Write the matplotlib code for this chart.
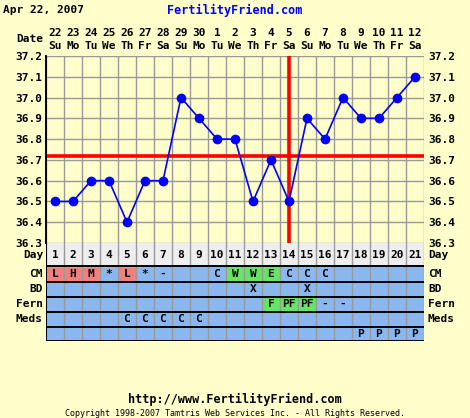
import matplotlib
matplotlib.use("Agg")
import matplotlib.pyplot as plt
import matplotlib.transforms as mtrans
from matplotlib.patches import Rectangle

# chart data
chart_date = "Apr 22, 2007"
days = list(range(1, 22))
dates = [22, 23, 24, 25, 26, 27, 28, 29, 30, 1, 2, 3, 4, 5, 6, 7, 8, 9, 10, 11, 12]
weekdays = ["Su", "Mo", "Tu", "We", "Th", "Fr", "Sa"] * 3
temps = [36.5, 36.5, 36.6, 36.6, 36.4, 36.6, 36.6, 37.0, 36.9, 36.8, 36.8,
         36.5, 36.7, 36.5, 36.9, 36.8, 37.0, 36.9, 36.9, 37.0, 37.1]
coverline = 36.72
ovulation_day = 14
temp_ticks = [36.3, 36.4, 36.5, 36.6, 36.7, 36.8, 36.9, 37.0, 37.1, 37.2]

row_names = ["CM", "BD", "Fern", "Meds", ""]
cm = ["L", "H", "M", "*", "L", "*", "-", "", "", "C", "W", "W", "E", "C", "C", "C", "", "", "", "", ""]
bd = ["", "", "", "", "", "", "", "", "", "", "", "X", "", "", "X", "", "", "", "", "", ""]
fern = ["", "", "", "", "", "", "", "", "", "", "", "", "F", "PF", "PF", "-", "-", "", "", "", ""]
meds = ["", "", "", "", "C", "C", "C", "C", "C", "", "", "", "", "", "", "", "", "", "", "", ""]
other = ["", "", "", "", "", "", "", "", "", "", "", "", "", "", "", "", "", "P", "P", "P", "P"]
rows = [cm, bd, fern, meds, other]

RED = "#f08080"
GREEN = "#66e466"
cell_colors = {0: {"L": RED, "H": RED, "M": RED, "W": GREEN, "E": GREEN},
               2: {"F": GREEN, "PF": GREEN}}

BG = "#ffffcc"
BLUE_ROW = "#8ab8ee"
GRID = "#999999"
FONT = "DejaVu Sans Mono"

W, H = 470, 418
fig = plt.figure(figsize=(W / 100, H / 100), dpi=100, facecolor=BG)


def fx(px):
    return px / W


def fy(py):
    return 1 - py / H


txt = dict(family=FONT, fontweight="bold", fontsize=8, color="black")

# temperature panel
ax = fig.add_axes([fx(46), fy(243), 378 / W, 187 / H])
ax.set_facecolor(BG)
ax.set_xlim(0.5, 21.5)
ax.set_ylim(36.3, 37.2)
for d in range(len(days) + 1):
    ax.axvline(d + 0.5, color=GRID, lw=1.0, zorder=1)
for t in temp_ticks:
    ax.axhline(t, color=GRID, lw=1.0, zorder=1)
ax.axhline(coverline, color="red", lw=2.6, zorder=2)
ax.axvline(ovulation_day, color="red", lw=2.6, zorder=2)
ax.plot(days, temps, color="blue", lw=1.2, marker="o", markersize=6, zorder=3)
ax.set_xticks([])
ax.set_yticks(temp_ticks)
ax.set_yticklabels([f"{t:.1f}" for t in temp_ticks], **txt)
ax.tick_params(axis="y", length=0, pad=3, labelright=True)
for s in ["top", "right", "bottom"]:
    ax.spines[s].set_visible(False)
ax.spines["left"].set_linewidth(1.4)

# date header
tr = mtrans.blended_transform_factory(ax.transData, fig.transFigure)
for d, n, wd in zip(days, dates, weekdays):
    ax.text(d, fy(33), str(n), transform=tr, ha="center", va="center", **txt)
    ax.text(d, fy(46), wd, transform=tr, ha="center", va="center", **txt)
fig.text(fx(43), fy(39), "Date", ha="right", va="center", **txt)
fig.text(fx(3), fy(10), chart_date, ha="left", va="center", **txt)
fig.text(fx(235), fy(10), "FertilityFriend.com", ha="center", va="center",
         family=FONT, fontweight="bold", fontsize=8.5, color="blue")

# table panel
tb = fig.add_axes([fx(46), fy(341), 378 / W, 98 / H])
tb.set_xlim(0.5, 21.5)
tb.set_ylim(98, 0)
tb.axis("off")
edges = [0, 23, 38.5, 53.5, 68.5, 83.5, 98]
tb.add_patch(Rectangle((0.5, edges[0]), 21, edges[1] - edges[0], color="#eeeeee", zorder=0))
tb.add_patch(Rectangle((0.5, edges[1]), 21, edges[-1] - edges[1], color=BLUE_ROW, zorder=0))
for d in days:
    tb.text(d, (edges[0] + edges[1]) / 2, str(d), ha="center", va="center", **txt)
for r, vals in enumerate(rows):
    top, bot = edges[r + 1], edges[r + 2]
    for d, v in zip(days, vals):
        if not v:
            continue
        c = cell_colors.get(r, {}).get(v)
        if c:
            tb.add_patch(Rectangle((d - 0.42, top + 1.5), 0.84, bot - top - 3, color=c, zorder=1))
        tb.text(d, (top + bot) / 2, v, ha="center", va="center", zorder=3, **txt)
for d in range(len(days) + 1):
    tb.axvline(d + 0.5, color=GRID, lw=1.0, zorder=2)
for e in edges[1:]:
    tb.axhline(e, color="black", lw=1.4, zorder=2)
tb.axvline(0.5, color="black", lw=1.4, zorder=2)

trl = mtrans.blended_transform_factory(fig.transFigure, tb.transData)
labels = ["Day"] + row_names
for r, lab in enumerate(labels):
    yc = (edges[r] + edges[r + 1]) / 2
    tb.text(fx(43), yc, lab, transform=trl, ha="right", va="center", **txt)
    tb.text(fx(428), yc, lab, transform=trl, ha="left", va="center", **txt)

# footer
fig.text(fx(235), fy(399), "http://www.FertilityFriend.com", ha="center", va="center",
         family=FONT, fontweight="bold", fontsize=8.5)
fig.text(fx(235), fy(413), "Copyright 1998-2007 Tamtris Web Services Inc. - All Rights Reserved.",
         ha="center", va="center", family=FONT, fontsize=6.0)

fig.savefig("out.png", dpi=100, facecolor=BG)
